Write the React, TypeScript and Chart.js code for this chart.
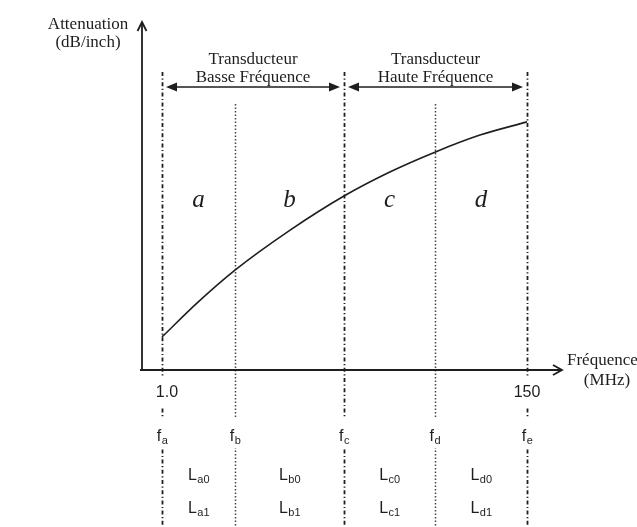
import React, { useEffect, useRef } from "react";
import { Chart, registerables } from "chart.js";

Chart.register(...registerables);

// Curve: attenuation (arbitrary units) vs frequency (MHz)
const freqMHz = [1, 15.7, 30.8, 53.3, 75.3, 94, 112.4, 130.8, 150];
const attenuation = [9.5, 19.5, 28.7, 40.2, 50, 56.9, 62.6, 67.5, 71.3];

// Boundary frequencies fa..fe
const boundaryFreqs = [1, 30.8, 75.3, 112.4, 150];
const boundaryNames = ["a", "b", "c", "d", "e"];
const boundaryDotted = [false, true, false, true, false];
const regionLetters = ["a", "b", "c", "d"];
const lRow0 = ["a0", "b0", "c0", "d0"];
const lRow1 = ["a1", "b1", "c1", "d1"];
const tickValues = [1, 150];
const tickLabels = ["1.0", "150"];
const bandTitles = [
  ["Transducteur", "Basse Fréquence"],
  ["Transducteur", "Haute Fréquence"],
];
const bandSpans = [
  [0, 2],
  [2, 4],
];
const yTitle = ["Attenuation", "(dB/inch)"];
const xTitle = ["Fréquence", "(MHz)"];

const INK = "#1e1e1e";
const SERIF = '"Liberation Serif", "DejaVu Serif", serif';
const SANS = '"Liberation Sans", Arial, sans-serif';

function drawSub(ctx: CanvasRenderingContext2D, main: string, sub: string, cx: number, baseline: number) {
  ctx.font = `16px ${SANS}`;
  const w1 = ctx.measureText(main).width;
  ctx.font = `11px ${SANS}`;
  const w2 = ctx.measureText(sub).width;
  const x0 = cx - (w1 + w2) / 2;
  ctx.textAlign = "left";
  ctx.textBaseline = "alphabetic";
  ctx.font = `16px ${SANS}`;
  ctx.fillText(main, x0, baseline);
  ctx.font = `11px ${SANS}`;
  ctx.fillText(sub, x0 + w1 + 0.5, baseline + 3);
  return w1 + w2;
}

const diagramPlugin = {
  id: "diagram",
  beforeDraw(chart: any) {
    const ctx = chart.ctx;
    ctx.save();
    ctx.fillStyle = "#ffffff";
    ctx.fillRect(0, 0, chart.width, chart.height);
    ctx.restore();
  },
  beforeDatasetsDraw(chart: any) {
    const ctx = chart.ctx as CanvasRenderingContext2D;
    const xs = chart.scales.x;
    const area = chart.chartArea;
    ctx.save();
    boundaryFreqs.forEach((f, i) => {
      const x = Math.round(xs.getPixelForValue(f)) + 0.5;
      ctx.beginPath();
      if (boundaryDotted[i]) {
        ctx.strokeStyle = "#444";
        ctx.lineWidth = 1.5;
        ctx.setLineDash([1.5, 2]);
        ctx.moveTo(x, area.top + 82);
      } else {
        ctx.strokeStyle = INK;
        ctx.lineWidth = 1.8;
        ctx.setLineDash([4, 2.5, 1.2, 2.5]);
        ctx.moveTo(x, area.top + 50);
      }
      ctx.lineTo(x, chart.height);
      ctx.stroke();
    });
    ctx.restore();
  },
  afterDraw(chart: any) {
    const ctx = chart.ctx as CanvasRenderingContext2D;
    const xs = chart.scales.x;
    const area = chart.chartArea;
    const L = area.left;
    const B = area.bottom;
    ctx.save();
    ctx.setLineDash([]);
    ctx.strokeStyle = INK;
    ctx.fillStyle = INK;

    // Axes
    ctx.lineWidth = 1.8;
    ctx.beginPath();
    ctx.moveTo(L, B + 1);
    ctx.lineTo(L, area.top + 1);
    ctx.moveTo(L - 2, B);
    ctx.lineTo(area.right + 2, B);
    ctx.stroke();
    // arrowheads
    ctx.lineWidth = 1.8;
    ctx.beginPath();
    ctx.moveTo(L - 4.5, area.top + 9);
    ctx.lineTo(L, area.top);
    ctx.lineTo(L + 4.5, area.top + 9);
    ctx.moveTo(area.right - 7, B - 5);
    ctx.lineTo(area.right + 2, B);
    ctx.lineTo(area.right - 7, B + 5);
    ctx.stroke();

    // Axis titles
    ctx.font = `17px ${SERIF}`;
    ctx.textAlign = "center";
    ctx.textBaseline = "alphabetic";
    ctx.fillText(yTitle[0], L - 54, area.top + 7);
    ctx.fillText(yTitle[1], L - 54, area.top + 25);
    ctx.textAlign = "left";
    ctx.fillText(xTitle[0], area.right + 7, B - 5);
    ctx.textAlign = "center";
    ctx.fillText(xTitle[1], area.right + 47, B + 15);

    // Band double arrows and titles
    const arrowY = area.top + 65;
    bandSpans.forEach((span, i) => {
      const x1 = xs.getPixelForValue(boundaryFreqs[span[0]]) + 4;
      const x2 = xs.getPixelForValue(boundaryFreqs[span[1]]) - 4;
      ctx.lineWidth = 1.6;
      ctx.beginPath();
      ctx.moveTo(x1 + 6, arrowY);
      ctx.lineTo(x2 - 6, arrowY);
      ctx.stroke();
      ctx.beginPath();
      ctx.moveTo(x1, arrowY);
      ctx.lineTo(x1 + 11, arrowY - 4.5);
      ctx.lineTo(x1 + 11, arrowY + 4.5);
      ctx.closePath();
      ctx.moveTo(x2, arrowY);
      ctx.lineTo(x2 - 11, arrowY - 4.5);
      ctx.lineTo(x2 - 11, arrowY + 4.5);
      ctx.closePath();
      ctx.fill();
      const cx = (x1 + x2) / 2;
      ctx.font = `17px ${SERIF}`;
      ctx.textAlign = "center";
      ctx.fillText(bandTitles[i][0], cx, area.top + 42);
      ctx.fillText(bandTitles[i][1], cx, area.top + 60);
    });

    // Region letters
    ctx.font = `italic 25px ${SERIF}`;
    ctx.textAlign = "center";
    regionLetters.forEach((r, i) => {
      const cx = (xs.getPixelForValue(boundaryFreqs[i]) + xs.getPixelForValue(boundaryFreqs[i + 1])) / 2;
      ctx.fillText(r, cx, area.top + 185);
    });

    // Tick labels (with white gap behind)
    tickValues.forEach((v, i) => {
      const x = xs.getPixelForValue(v);
      ctx.fillStyle = "#ffffff";
      ctx.fillRect(x - 6, B + 8, 12, 29);
      ctx.fillStyle = INK;
      ctx.font = `16px ${SANS}`;
      ctx.textAlign = "center";
      ctx.fillText(tickLabels[i], x + (i === 0 ? 5 : 0), B + 27);
    });

    // Boundary labels f_a..f_e
    boundaryFreqs.forEach((f, i) => {
      const x = xs.getPixelForValue(f);
      ctx.fillStyle = "#ffffff";
      ctx.fillRect(x - 8, B + 47, 16, 31);
      ctx.fillStyle = INK;
      drawSub(ctx, "f", boundaryNames[i], x, B + 71);
    });

    // L labels
    regionLetters.forEach((_, i) => {
      const cx = (xs.getPixelForValue(boundaryFreqs[i]) + xs.getPixelForValue(boundaryFreqs[i + 1])) / 2;
      drawSub(ctx, "L", lRow0[i], cx, B + 110);
      drawSub(ctx, "L", lRow1[i], cx, B + 143);
    });

    ctx.restore();
  },
};

export default function App() {
  const canvasRef = useRef<HTMLCanvasElement | null>(null);

  useEffect(() => {
    if (!canvasRef.current) return;
    const chart = new Chart(canvasRef.current, {
      type: "line",
      data: {
        datasets: [
          {
            data: freqMHz.map((f, i) => ({ x: f, y: attenuation[i] })),
            borderColor: INK,
            borderWidth: 1.6,
            pointRadius: 0,
            fill: false,
            cubicInterpolationMode: "monotone",
          },
        ],
      },
      options: {
        animation: false,
        responsive: false,
        maintainAspectRatio: false,
        events: [],
        layout: { padding: { left: 142, top: 22, right: 77, bottom: 157 } },
        plugins: { legend: { display: false }, tooltip: { enabled: false } },
        scales: {
          x: { type: "linear", min: -7.16, max: 163.47, display: false },
          y: { type: "linear", min: 0, max: 100, display: false },
        },
      },
      plugins: [diagramPlugin],
    } as any);
    return () => chart.destroy();
  }, []);

  return (
    <div style={{ position: "fixed", left: 0, top: 0, width: 637, height: 527, background: "#fff" }}>
      <canvas ref={canvasRef} width={637} height={527} style={{ width: 637, height: 527 }} />
    </div>
  );
}
